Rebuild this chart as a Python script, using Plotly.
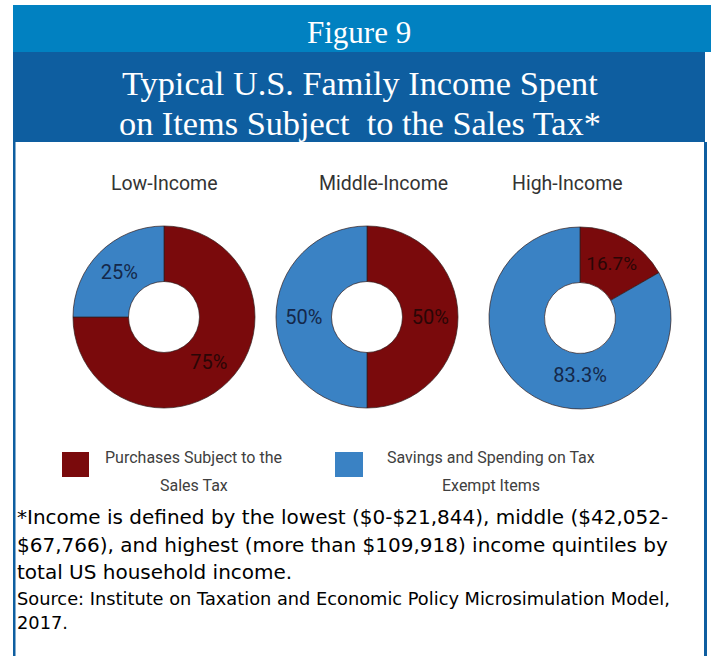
import plotly.graph_objects as go

W, H = 711, 656

groups = ["Low-Income", "Middle-Income", "High-Income"]
categories = ["Purchases Subject to the Sales Tax", "Savings and Spending on Tax Exempt Items"]
taxed_share = [75, 50, 16.7]
exempt_share = [25, 50, 83.3]
colors = ["#7a0a0c", "#3a82c4"]

legend_lines = [["Purchases Subject to the", "Sales Tax"], ["Savings and Spending on Tax", "Exempt Items"]]
title_lines = ["Typical U.S. Family Income Spent", "on Items Subject  to the Sales Tax*"]
footnote_lines = ["*Income is defined by the lowest ($0-$21,844), middle ($42,052-",
                  "$67,766), and highest (more than $109,918) income quintiles by",
                  "total US household income."]
source_lines = ["Source: Institute on Taxation and Economic Policy Microsimulation Model,", "2017."]

SERIF = "Liberation Serif, Times New Roman, serif"
SANS = "DejaVu Sans, sans-serif"
NARROW = "Roboto, Lato, sans-serif"


def narrow(size, color):
    return dict(family=NARROW, size=size, color=color)


def fx(x):
    return x / W


def fy(y):
    return 1 - y / H


# donut centres and radius in page pixels
centres = [(164, 317), (367, 317), (580, 318)]
R = 91

fig = go.Figure()
for i, g in enumerate(groups):
    cx, cy = centres[i]
    vals = [taxed_share[i], exempt_share[i]]
    fig.add_trace(go.Pie(
        labels=categories,
        values=vals,
        text=[f"{v:g}%" for v in vals],
        textinfo="text",
        textposition="inside",
        insidetextorientation="horizontal",
        insidetextfont=dict(family=NARROW, size=20, color=["#2a0606", "#14284a"]),
        hole=0.39,
        sort=False,
        direction="clockwise",
        rotation=0,
        marker=dict(colors=colors, line=dict(color="rgba(50,30,30,0.7)", width=1)),
        domain=dict(x=[fx(cx - R), fx(cx + R)], y=[fy(cy + R), fy(cy - R)]),
        showlegend=False,
        hoverinfo="label+percent",
    ))

shapes = []
# header bands
shapes.append(dict(type="rect", xref="paper", yref="paper", x0=fx(13), x1=fx(711), y0=fy(52), y1=fy(5),
                   fillcolor="#0181c1", line=dict(width=0), layer="below"))
shapes.append(dict(type="rect", xref="paper", yref="paper", x0=fx(13), x1=fx(705), y0=fy(142), y1=fy(52),
                   fillcolor="#0e5ea0", line=dict(width=0), layer="below"))
# side borders of the panel
shapes.append(dict(type="rect", xref="paper", yref="paper", x0=fx(13), x1=fx(15.5), y0=fy(656), y1=fy(142),
                   fillcolor="#0e5ea0", line=dict(width=0)))
shapes.append(dict(type="rect", xref="paper", yref="paper", x0=fx(704), x1=fx(707), y0=fy(656), y1=fy(142),
                   fillcolor="#0e5ea0", line=dict(width=0)))
# legend swatches
swatches = [(62, 89), (335, 363)]
for (x0, x1), c in zip(swatches, colors):
    shapes.append(dict(type="rect", xref="paper", yref="paper", x0=fx(x0), x1=fx(x1), y0=fy(477), y1=fy(452),
                       fillcolor=c, line=dict(width=0)))

annotations = [dict(text="Figure 9", x=fx(359), y=fy(32), font=dict(family=SERIF, size=31, color="white"))]
for t, y in zip(title_lines, [83, 123]):
    annotations.append(dict(text=t, x=fx(360), y=fy(y), font=dict(family=SERIF, size=34.3, color="white")))
title_x = [164, 384, 567]
for g, x in zip(groups, title_x):
    annotations.append(dict(text=g, x=fx(x), y=fy(183), font=narrow(19.5, "#333333")))
legend_x = [194, 491]
for lines, x in zip(legend_lines, legend_x):
    for t, y in zip(lines, [457, 485]):
        annotations.append(dict(text=t, x=fx(x), y=fy(y), font=narrow(16, "#404040")))
for t, y in zip(footnote_lines, [517, 545, 572]):
    annotations.append(dict(text=t, x=fx(15), y=fy(y), xanchor="left",
                            font=dict(family=SANS, size=20, color="black")))
for t, y in zip(source_lines, [598, 622]):
    annotations.append(dict(text=t, x=fx(15), y=fy(y), xanchor="left",
                            font=dict(family=SANS, size=17.8, color="black")))
for a in annotations:
    a.setdefault("xref", "paper")
    a.setdefault("yref", "paper")
    a.setdefault("showarrow", False)
    a.setdefault("xanchor", "center")
    a.setdefault("yanchor", "middle")

fig.update_layout(
    width=W, height=H,
    margin=dict(l=0, r=0, t=0, b=0),
    paper_bgcolor="white",
    plot_bgcolor="white",
    shapes=shapes,
    annotations=annotations,
)

fig.write_html("out.html")
